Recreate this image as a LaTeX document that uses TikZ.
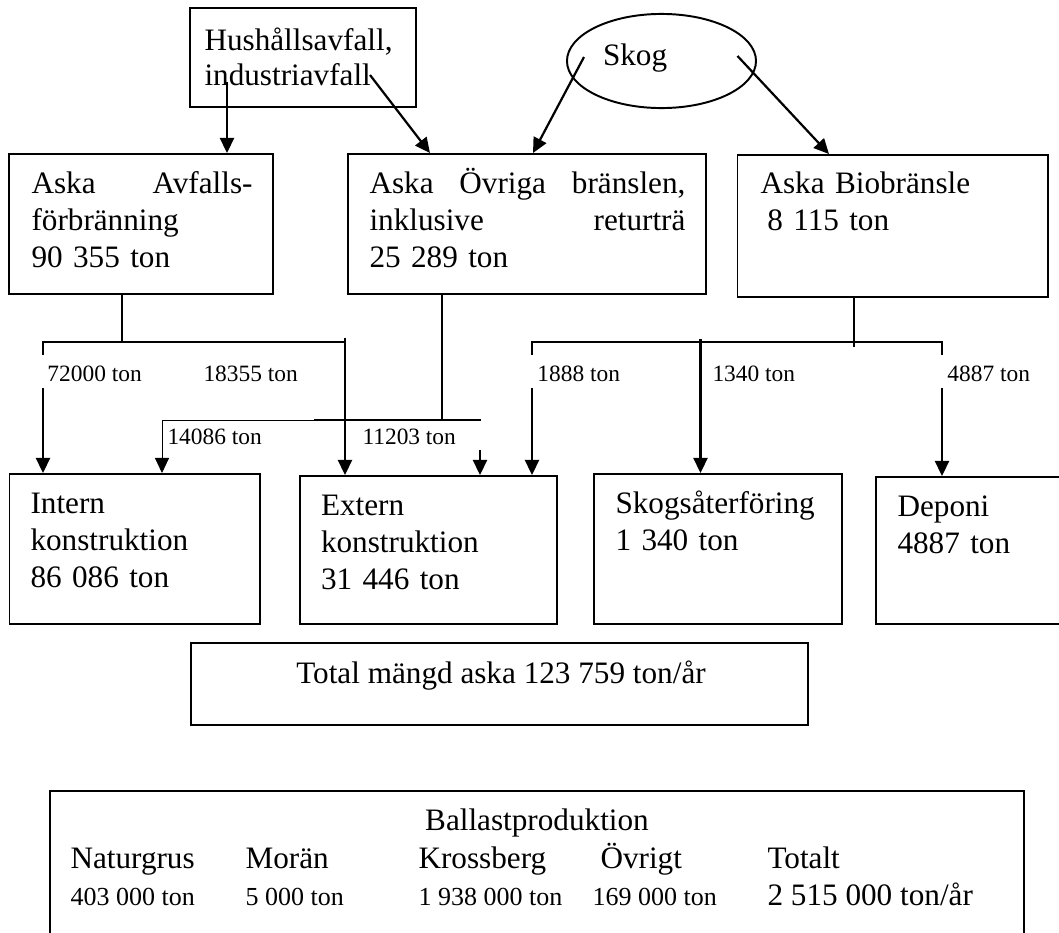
\documentclass[tikz,border=0pt]{standalone}
\usepackage{fontspec}
\setmainfont{Liberation Serif}
\usetikzlibrary{arrows.meta,shapes.geometric,fit}
\begin{document}
\begin{tikzpicture}[x=0.3846pt,y=-0.3846pt,
  box/.style={draw, line width=0.75pt, inner sep=0pt, rectangle},
  conn/.style={line width=0.85pt},
  arr/.style={conn, -{Triangle[length=5.8pt,width=5.4pt]}},
  arrthin/.style={line width=0.35pt, -{Triangle[length=5.8pt,width=5.4pt]}},
  thinln/.style={line width=0.35pt},
  txt/.style={anchor=base west, inner sep=0pt, align=left, font=\fontsize{12}{14.4}\selectfont},
  lbl/.style={anchor=base west, inner sep=0pt, font=\fontsize{9}{10.8}\selectfont},
  lblw/.style={lbl, fill=white, inner xsep=2.6pt, inner ysep=0pt, text height=10pt, text depth=2.7pt},
  big/.style={anchor=base west, inner sep=0pt, font=\fontsize{12}{14.4}\selectfont},
  sm/.style={anchor=base west, inner sep=0pt, font=\fontsize{10}{12}\selectfont},
]
\useasboundingbox (0,0) rectangle (1059,933);
\fill[white] (0,0) rectangle (1059,933);

% boxes
\node[box, fit={(190,8) (416,107)}] (hus) {};
\node[box, fit={(9,154) (273,294)}] (avf) {};
\node[box, fit={(348,154) (706,294)}] (ovr) {};
\node[box, fit={(737.5,155) (1048,297)}] (bio) {};
\node[draw, ellipse, line width=0.75pt, inner sep=0pt, minimum width=72.7pt, minimum height=36.2pt] (skog) at (661.5,61) {};
\node[box, fit={(9.5,474) (260,624)}] (int) {};
\node[box, fit={(300,476) (557,624)}] (ext) {};
\node[box, fit={(594,474) (842,624)}] (sko) {};
\node[box, fit={(876,477) (1075,624)}] (dep) {};
\node[box, fit={(191,643) (808,725)}] (tot) {};
\node[box, fit={(50,791) (1024,950)}] (bal) {};

% texts
\node[txt, font=\fontsize{12}{13.5}\selectfont, text width=80pt] (hust) at (204,50) {Hushållsavfall,\\industriavfall};
\node[txt, text width=85pt] (avft) at (31,193) {Aska\hfill Avfalls-\\förbränning\\90 355 ton};
\node[txt, text width=121.5pt] (ovrt) at (369,193) {Aska\hfill Övriga\hfill bränslen,\\inklusive\hfill returträ\\25 289 ton};
\node[txt, text width=100pt] (biot) at (760,193) {Aska Biobränsle\\\hspace*{2.6pt}8 115 ton};
\node[big] (skogt) at (602.5,65) {Skog};
\node[txt, text width=80pt] (intt) at (30,513) {Intern\\konstruktion\\86 086 ton};
\node[txt, text width=80pt] (extt) at (320.5,515) {Extern\\konstruktion\\31 446 ton};
\node[txt, text width=90pt] (skot) at (615,513) {Skogsåterföring\\1 340 ton};
\node[txt, text width=60pt] (dept) at (897,516) {Deponi\\4887 ton};
\node[anchor=base, inner sep=0pt, font=\fontsize{12}{14.4}\selectfont] (tott) at (501,683) {Total mängd aska 123 759 ton/år};
\node[anchor=base, inner sep=0pt, font=\fontsize{12}{14.4}\selectfont] (balt) at (537,830) {Ballastproduktion};
\node[big] (c1) at (70,868) {Naturgrus};
\node[big] (c2) at (245,868) {Morän};
\node[big] (c3) at (418,868) {Krossberg};
\node[big] (c4) at (600,868) {Övrigt};
\node[big] (c5) at (767,868) {Totalt};
\node[sm] (v1) at (70,905) {403 000 ton};
\node[sm] (v2) at (245,905) {5 000 ton};
\node[sm] (v3) at (418,905) {1 938 000 ton};
\node[sm] (v4) at (592,905) {169 000 ton};
\node[big] (v5) at (767,905) {2 515 000 ton/år};

% top connectors
\coordinate (h1) at (227,82);
\coordinate (h2) at (370,75);
\coordinate (s1) at (584,57);
\coordinate (s2) at (737.5,56);
\draw[arr] (h1) -- (h1 |- avf.north);
\draw[arr] (h2) -- (430,0 |- ovr.north);
\draw[arr] (s1) -- (533,0 |- ovr.north);
\draw[arr] (s2) -- (829,0 |- bio.north);

% Avfalls branch
\coordinate (aj) at (122,342);
\draw[conn] (122,0 |- avf.south) -- (aj);
\draw[arr] (aj) -- (43,342) -- (43,0 |- int.north);
\draw[conn] (aj) -- (345,342);
\draw[arr] (345,338) -- (345,0 |- ext.north);

% Ovriga branch
\coordinate (oj) at (442,420);
\draw[conn] (442,0 |- ovr.south) -- (oj);
\draw[thinln] (162,420) -- (314,420);
\draw[conn] (314,420) -- (481,420);
\draw[arrthin] (162,420) -- (162,0 |- int.north);
\draw[arr] (480,450) -- (480,0 |- ext.north);

% Bio branch
\coordinate (bj) at (854,342);
\draw[conn] (854,0 |- bio.south) -- (854,347);
\draw[arr] (bj) -- (532,342) -- (532,0 |- ext.north);
\draw[arr] (bj) -- (942,342) -- (942,0 |- dep.north);
\draw[arr] (700.5,339) -- (700.5,0 |- sko.north);

% labels
\node[lblw] (l1) at (40.2,381) {72000 ton};
\node[lbl] (l2) at (203,381) {18355 ton};
\node[lbl] (l3) at (167,444) {14086 ton};
\node[lbl] (l4) at (362,444) {11203 ton};
\node[lblw] (l5) at (530.2,381) {1888 ton};
\node[lbl] (l6) at (712,381) {1340 ton};
\node[lblw] (l7) at (940.2,381) {4887 ton};
\end{tikzpicture}
\end{document}
